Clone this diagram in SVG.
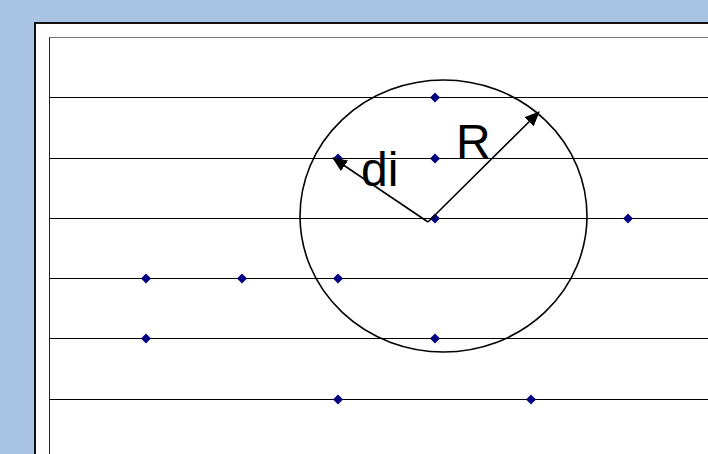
<svg xmlns="http://www.w3.org/2000/svg" width="708" height="454" viewBox="0 0 708 454">
<style>
.grid{stroke:#000;stroke-width:1}
.pt{fill:#000080}
.arr{stroke:#000;stroke-width:1.6;fill:none;marker-end:url(#ah)}
.lbl{font-family:"Liberation Sans",Arial,sans-serif;font-size:48px;fill:#000}
</style>
<defs>
<marker id="ah" viewBox="0 0 15 13" refX="14" refY="6.5" markerWidth="15" markerHeight="13" markerUnits="userSpaceOnUse" orient="auto">
<path d="M0,0 L15,6.5 L0,13 z" fill="#000"/>
</marker>
<path id="d" d="M0,-5 L5,0 L0,5 L-5,0 z"/>
</defs>
<rect x="0" y="0" width="708" height="454" fill="#a8c4e2"/>
<rect x="35" y="23" width="680" height="440" fill="#fff" stroke="#111" stroke-width="2"/>
<rect x="49.5" y="37.5" width="670" height="430" fill="#fff" stroke="#222" stroke-width="1"/>
<line x1="49.5" y1="37.5" x2="708" y2="37.5" stroke="#777" stroke-width="1"/>
<g id="grid" class="grid">
<line x1="49" y1="97.5" x2="708" y2="97.5"/>
<line x1="49" y1="158.5" x2="708" y2="158.5"/>
<line x1="49" y1="218.5" x2="708" y2="218.5"/>
<line x1="49" y1="278.5" x2="708" y2="278.5"/>
<line x1="49" y1="338.5" x2="708" y2="338.5"/>
<line x1="49" y1="399.5" x2="708" y2="399.5"/>
</g>
<g id="circle"><ellipse cx="443.5" cy="216" rx="143.5" ry="136" fill="none" stroke="#000" stroke-width="1.6"/></g>
<g id="points" class="pt">
<use href="#d" x="435" y="97.5"/>
<use href="#d" x="338" y="158.5"/>
<use href="#d" x="435" y="158.5"/>
<use href="#d" x="435" y="218.5"/>
<use href="#d" x="628" y="218.5"/>
<use href="#d" x="146" y="278.5"/>
<use href="#d" x="242" y="278.5"/>
<use href="#d" x="338" y="278.5"/>
<use href="#d" x="146" y="338.5"/>
<use href="#d" x="435" y="338.5"/>
<use href="#d" x="338" y="399.5"/>
<use href="#d" x="531" y="399.5"/>
</g>
<g id="connectors">
<line class="arr" x1="428" y1="222" x2="333" y2="158"/>
<line class="arr" x1="428" y1="222" x2="539" y2="112"/>
</g>
<g id="labels">
<text class="lbl" x="361" y="186">di</text>
<text class="lbl" x="456" y="158">R</text>
</g>
</svg>
